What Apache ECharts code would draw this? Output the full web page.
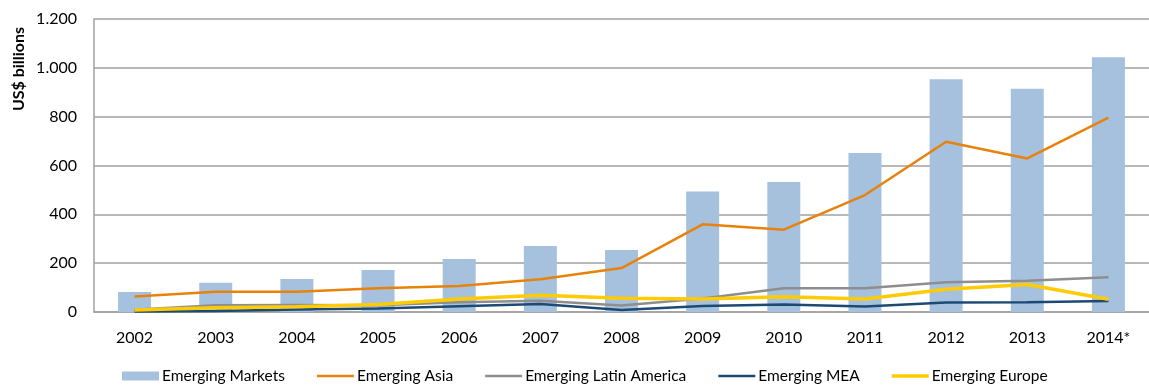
<!DOCTYPE html>
<html>
<head>
<meta charset="utf-8">
<script src="https://cdn.jsdelivr.net/npm/echarts@6/dist/echarts.min.js"></script>
<style>
html,body{margin:0;padding:0;background:#fff;}
#chart{width:1149px;height:385px;}
</style>
</head>
<body>
<div id="chart"></div>
<script>
var categories = ['2002','2003','2004','2005','2006','2007','2008','2009','2010','2011','2012','2013','2014*'];
var emergingMarkets = [82, 120, 135, 172, 217, 270, 254, 494, 532, 651, 953, 914, 1043];
var emergingAsia = [63, 83, 83, 97, 106, 134, 180, 359, 337, 479, 697, 629, 796];
var emergingLatinAmerica = [9, 28, 29, 28, 40, 46, 27, 55, 97, 97, 122, 128, 142];
var emergingMEA = [2, 4, 10, 14, 24, 33, 8, 25, 31, 23, 39, 40, 45];
var emergingEurope = [8, 17, 22, 31, 53, 69, 56, 53, 62, 53, 93, 113, 52];
var yTicks = [0, 200, 400, 600, 800, 1000, 1200];

var FONT = 'Lato';
var LINE_ICON = 'path://M0,0 M37,9 M0,3.2 L37,3.2 L37,5.8 L0,5.8 Z';
var chart = echarts.init(document.getElementById('chart'));

function fmt(v){
  return String(v).replace(/\B(?=(\d{3})+(?!\d))/g, '.');
}

chart.setOption({
  animation: false,
  textStyle: {fontFamily: FONT},
  grid: {left: 94, right: -12, top: 19, bottom: 73, containLabel: false},
  graphic: [{
    type: 'text',
    rotation: Math.PI / 2,
    x: 19, y: 69,
    style: {text: 'US$ billions', font: 'bold 16px ' + FONT, fill: '#000', align: 'center', verticalAlign: 'middle'}
  }],
  legend: {
    left: 122, top: 367, padding: 0,
    itemWidth: 37, itemHeight: 9, itemGap: 32,
    textStyle: {fontFamily: FONT, fontSize: 15.5, lineHeight: 18, color: '#000', padding: [0,0,0,-2]},
    data: [
      {name: 'Emerging Markets', icon: 'rect'},
      {name: 'Emerging Asia', icon: LINE_ICON},
      {name: 'Emerging Latin America', icon: LINE_ICON},
      {name: 'Emerging MEA', icon: LINE_ICON},
      {name: 'Emerging Europe', icon: 'path://M0,0 M37,9 M0,2.7 L37,2.7 L37,6.3 L0,6.3 Z'}
    ]
  },
  xAxis: {
    type: 'category',
    data: categories,
    boundaryGap: true,
    axisLine: {lineStyle: {color: '#a0a0a0', width: 1.5}},
    axisTick: {alignWithLabel: true, length: 4, lineStyle: {color: '#a0a0a0', width: 1.5}},
    axisLabel: {color: '#000', fontSize: 16, fontFamily: FONT, margin: 18}
  },
  yAxis: {
    type: 'value',
    min: 0, max: 1200, interval: 200,
    axisLine: {show: true, lineStyle: {color: '#a0a0a0', width: 1.5}},
    axisTick: {show: false},
    splitLine: {lineStyle: {color: '#a0a0a0', width: 1.5}},
    axisLabel: {color: '#000', fontSize: 16, fontFamily: FONT, margin: 17, formatter: function(v){ return fmt(v); }}
  },
  series: [
    {name: 'Emerging Markets', type: 'bar', data: emergingMarkets, barWidth: 33,
      itemStyle: {color: '#a6c1de'}},
    {name: 'Emerging Asia', type: 'line', data: emergingAsia, symbol: 'none',
      lineStyle: {color: '#e8820b', width: 2.5}, itemStyle: {color: '#e8820b'}},
    {name: 'Emerging Latin America', type: 'line', data: emergingLatinAmerica, symbol: 'none',
      lineStyle: {color: '#8e8e8e', width: 2.5}, itemStyle: {color: '#8e8e8e'}},
    {name: 'Emerging MEA', type: 'line', data: emergingMEA, symbol: 'none',
      lineStyle: {color: '#1c4a73', width: 2.5}, itemStyle: {color: '#1c4a73'}},
    {name: 'Emerging Europe', type: 'line', data: emergingEurope, symbol: 'none',
      lineStyle: {color: '#ffcb05', width: 3.5}, itemStyle: {color: '#ffcb05'}}
  ]
});
</script>
</body>
</html>
